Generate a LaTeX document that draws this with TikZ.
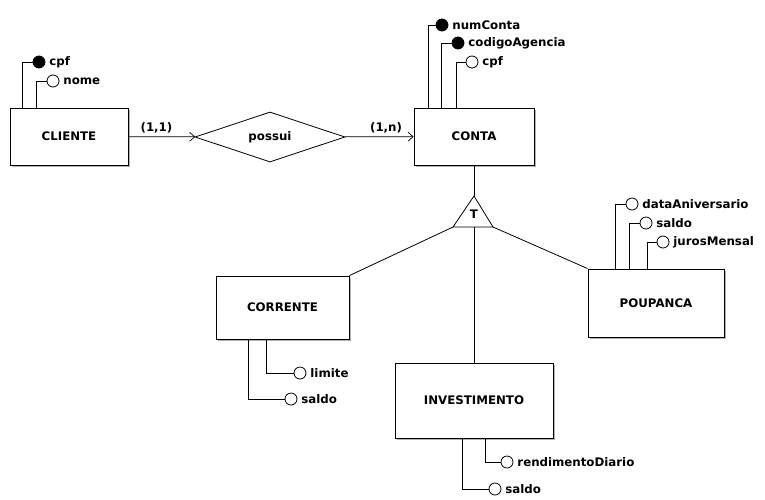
\documentclass[tikz,border=0pt]{standalone}
\usepackage{fontspec}
\setmainfont{DejaVu Sans}
\usetikzlibrary{shapes.geometric,shadows,arrows.meta}

\begin{document}
\begin{tikzpicture}[x=1pt, y=-1pt,
    >={Straight Barb[length=5pt, width=9pt, line width=0.7pt]},
    every node/.style={font=\bfseries\fontsize{11.8}{14}\selectfont},
    entity/.style={draw, fill=white, line width=0.9pt,
        drop shadow={shadow xshift=1.5pt, shadow yshift=-1.5pt, opacity=0.6}},
    relation/.style={draw, diamond, aspect=3, inner sep=1pt,
        minimum width=150pt, minimum height=50pt, line width=0.8pt},
    keyattr/.style={circle, draw, fill=black, inner sep=0pt,
        minimum size=12pt, line width=0.8pt},
    plainattr/.style={keyattr, fill=white},
    line/.style={line width=0.8pt}
]
    \useasboundingbox (0,0) rectangle (765,499);

    % Draw the entities and the relationship
    \node[entity, minimum width=118pt, minimum height=57pt] (cliente) at (69,136.5) {CLIENTE};
    \node[entity, minimum width=120pt, minimum height=57pt] (conta) at (474,136.5) {CONTA};
    \node[entity, minimum width=133pt, minimum height=63pt] (corrente) at (282.5,307.5) {CORRENTE};
    \node[entity, minimum width=158pt, minimum height=75pt] (investimento) at (474,400.5) {INVESTIMENTO};
    \node[entity, minimum width=136pt, minimum height=68pt] (poupanca) at (656,303) {POUPANCA};
    \node[relation] (possui) at (270,137) {possui};

    % Draw the relationship arrows with cardinalities
    \draw[line, ->] (cliente) -- node[above, pos=0.42] {(1,1)} (possui);
    \draw[line, ->] (possui) -- node[above, pos=0.6] {(1,n)} (conta);

    % Draw the specialization triangle
    \coordinate (tri-top) at (474,196);
    \coordinate (tri-left) at (453,227);
    \coordinate (tri-right) at (493,227);
    \coordinate (tri-base) at (474,227);
    \draw[line] (tri-top) -- (tri-left) -- (tri-right) -- cycle;
    \node (spec) at (474,214) {T};
    \draw[line] (conta) -- (tri-top);
    \draw[line] (tri-left) -- (corrente.north east);
    \draw[line] (tri-base) -- (investimento);
    \draw[line] (tri-right) -- (poupanca.north west);

    % Draw the attributes above the entities
    \foreach \ent/\name/\txt/\cx/\cy/\dx/\st in {
        cliente/cpf/cpf/39/62/13/keyattr,
        cliente/nome/nome/53/81/27/plainattr,
        conta/num/numConta/442/25/15/keyattr,
        conta/agencia/codigoAgencia/458/43/28/keyattr,
        conta/cpf/cpf/472/62/43/plainattr,
        poupanca/data/dataAniversario/632/204/28/plainattr,
        poupanca/saldo/saldo/646/223/42/plainattr,
        poupanca/juros/jurosMensal/663/242/60/plainattr} {
        \node[\st, label={[label distance=0.5pt]right:\txt}] (\ent-\name) at (\cx,\cy) {};
        \draw[line] ([xshift=\dx pt]\ent.north west) |- (\ent-\name);
    }

    % Draw the attributes below the entities
    \foreach \ent/\name/\txt/\cx/\cy/\dx in {
        corrente/limite/limite/300/373/51,
        corrente/saldo/saldo/291/399/33,
        investimento/rend/rendimentoDiario/507/462/91,
        investimento/saldo/saldo/495/489/68} {
        \node[plainattr, label={[label distance=0.5pt]right:\txt}] (\ent-\name) at (\cx,\cy) {};
        \draw[line] ([xshift=\dx pt]\ent.south west) |- (\ent-\name);
    }

\end{tikzpicture}
\end{document}
